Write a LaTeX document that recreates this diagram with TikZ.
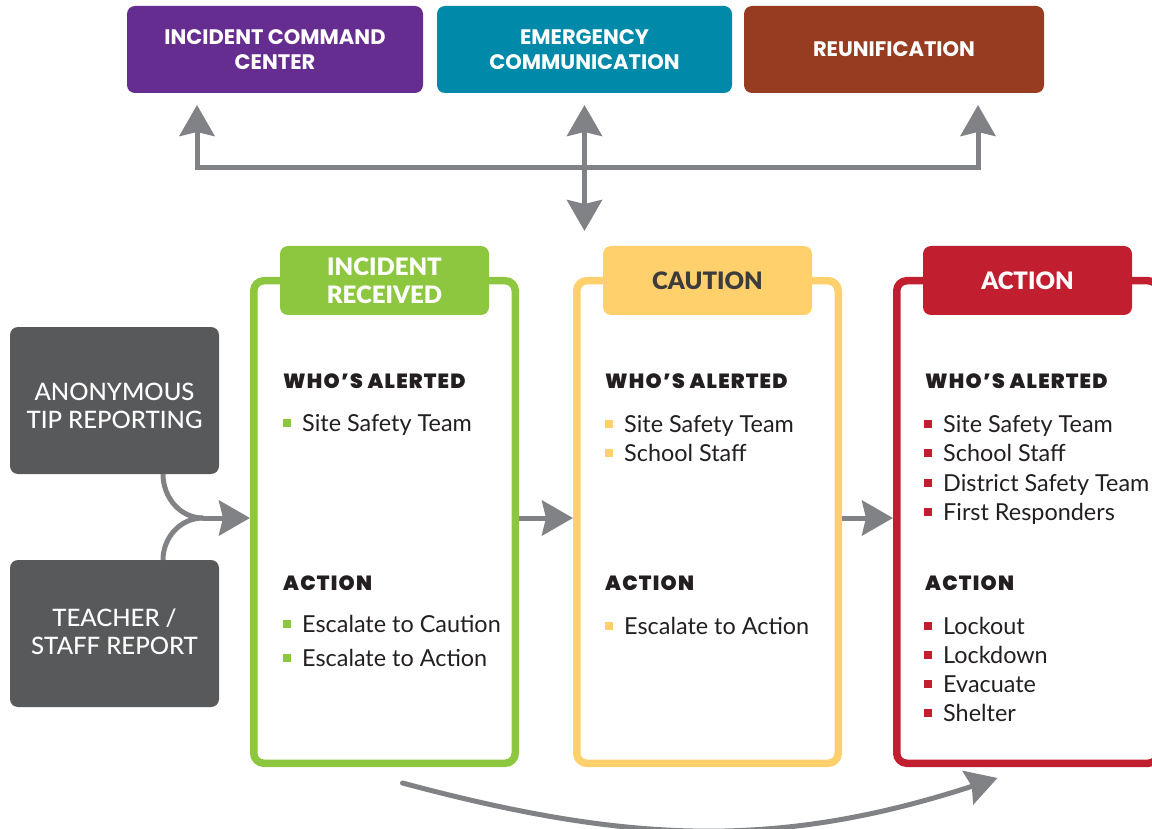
\documentclass[tikz,border=0pt]{standalone}
\usepackage{fontspec}
\setmainfont{Lato}
\newfontfamily\headfont{Poppins}
\IfFontExistsTF{Poppins Black}{\newfontfamily\heavyfont{Poppins Black}[LetterSpace=6]}
    {\newfontfamily\heavyfont{Poppins}[UprightFont=*, BoldFeatures={LetterSpace=6}]}
\IfFontExistsTF{Lato Black}{\newfontfamily\tabfont{Lato Black}}
    {\newcommand{\tabfont}{\bfseries}}
\IfFontExistsTF{Lato Medium}{\newfontfamily\srcfont{Lato Medium}}
    {\newcommand{\srcfont}{}}
\usetikzlibrary{arrows.meta}
\definecolor{icpurple}{HTML}{662D91}
\definecolor{ecteal}{HTML}{0089A8}
\definecolor{rubrown}{HTML}{973C21}
\definecolor{irgreen}{HTML}{8DC63F}
\definecolor{cayellow}{HTML}{FFD06C}
\definecolor{acred}{HTML}{C11F30}
\definecolor{srcgray}{HTML}{58595B}
\definecolor{arrgray}{HTML}{808285}
\definecolor{inktext}{HTML}{231F20}
\definecolor{tabink}{HTML}{3C3C3C}
\newcommand{\bul}[1]{\textcolor{#1}{\rule[4.5pt]{8pt}{8pt}}\hspace{11pt}}

\begin{document}
\begin{tikzpicture}[x=1pt,y=-1pt,
    topbox/.style={rounded corners=8pt, minimum width=296pt, minimum height=87pt,
        inner sep=0pt, outer sep=0pt, text=white, align=center,
        font=\headfont\bfseries\fontsize{21}{25}\selectfont},
    srcbox/.style={fill=srcgray, rounded corners=8pt, minimum width=209pt,
        minimum height=147pt, inner sep=0pt, outer sep=0pt},
    srctext/.style={inner sep=0pt, text=white, align=center,
        font=\srcfont\fontsize{24}{28}\selectfont},
    panel/.style={draw=#1, line width=7.5pt, rounded corners=10pt,
        minimum width=261.5pt, minimum height=482.5pt, inner sep=0pt, outer sep=3.75pt},
    tab/.style={fill=#1, rounded corners=8pt, minimum width=209pt, minimum height=69pt,
        inner sep=0pt, outer sep=0pt, align=center, yshift=-3.5pt,
        font=\tabfont\fontsize{24}{28}\selectfont},
    head/.style={anchor=base west, inner sep=0pt, text=inktext,
        font=\heavyfont\fontsize{20.5}{24}\selectfont},
    item/.style={anchor=base west, inner sep=0pt, text=inktext,
        font=\fontsize{23.4}{28}\selectfont},
    gline/.style={draw=arrgray, line width=5pt},
    garrow/.style={gline, -{Stealth[length=31pt,width=35pt,inset=4pt]}},
]
\clip (0,0) rectangle (1152,829);

% response teams
\node[topbox, fill=icpurple] (icc) at (275,49.5) {INCIDENT COMMAND\\CENTER};
\node[topbox, fill=ecteal, minimum width=295pt] (ecom) at (584.5,49.5) {EMERGENCY\\COMMUNICATION};
\node[topbox, fill=rubrown, minimum width=300pt] (reun) at (894,49.5) {REUNIFICATION};

% sources
\node[srcbox] (anon) at (114.5,400.5) {};
\node[srcbox] (staff) at (114.5,633.5) {};
\node[srctext] (anon-txt) at ([yshift=-5pt]anon.center) {ANONYMOUS\\TIP REPORTING};
\node[srctext] (staff-txt) at ([yshift=2pt]staff.center) {TEACHER /\\STAFF REPORT};

% levels
\node[panel=irgreen] (recv) at (384.5,522) {};
\node[panel=cayellow] (caut) at (707.5,522) {};
\node[panel=acred] (act) at (1027.5,522) {};
\node[tab=irgreen, text=white] (recv-tab) at (recv.north) {INCIDENT\\RECEIVED};
\node[tab=cayellow, text=tabink] (caut-tab) at (caut.north) {CAUTION};
\node[tab=acred, text=white] (act-tab) at (act.north) {ACTION};

\foreach \p/\x in {recv/283, caut/605, act/925} {
    \node[head] (\p-who) at (\x,388) {WHO’S ALERTED};
    \node[head] (\p-act) at (\x,590) {ACTION};
}

\node[item] (recv-who0) at (283,431.5) {\bul{irgreen}Site Safety Team};
\foreach \t [count=\i from 0] in {Escalate to Caution, Escalate to Action}
    \node[item] (recv-act\i) at (283,632+34*\i) {\bul{irgreen}\t};

\foreach \t [count=\i from 0] in {Site Safety Team, School Staff}
    \node[item] (caut-who\i) at (605,432.5+29.3*\i) {\bul{cayellow}\t};
\node[item] (caut-act0) at (605,634) {\bul{cayellow}Escalate to Action};

\foreach \t [count=\i from 0] in {Site Safety Team, School Staff, District Safety Team, First Responders}
    \node[item] (act-who\i) at (924,432.5+29.3*\i) {\bul{acred}\t};
\foreach \t [count=\i from 0] in {Lockout, Lockdown, Evacuate, Shelter}
    \node[item] (act-act\i) at (924,634+29.3*\i) {\bul{acred}\t};

% connectors
\coordinate (hub) at ([yshift=-75pt]ecom.south);
\coordinate (down) at ([yshift=-63pt]hub);
\draw[garrow, shorten >=12pt] (hub) -| ([xshift=-78pt]icc.south);
\draw[garrow, shorten >=12pt] (hub) -| ([xshift=84pt]reun.south);
\draw[garrow, shorten >=12pt] (hub) -- (ecom.south);
\draw[garrow] (hub) -- (down);

\coordinate (merge) at (203,518);
\draw[gline] ([xshift=48.5pt]anon.south) to[out=-90,in=180] (merge);
\draw[gline] ([xshift=48.5pt]staff.north) to[out=90,in=180] (merge);
\draw[garrow] (merge) -- (recv.west |- merge);

\draw[garrow] ([yshift=4pt]recv.east) -- ([yshift=4pt]caut.west);
\draw[garrow] ([yshift=4pt]caut.east) -- ([yshift=4pt]act.west);
\draw[garrow, line cap=round] ([xshift=18pt,yshift=-16pt]recv.south)
    to[out=-15,in=198] ([xshift=-30pt,yshift=-11pt]act.south);
\end{tikzpicture}
\end{document}
